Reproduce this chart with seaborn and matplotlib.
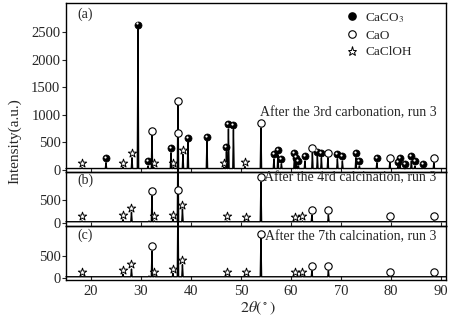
import numpy as np
import pandas as pd
import matplotlib
matplotlib.use("Agg")
import matplotlib.pyplot as plt
import seaborn as sns
from matplotlib.lines import Line2D
from matplotlib.transforms import offset_copy

# peak positions (2theta), heights (a.u.) and phase for each pattern
# C = CaCO3, O = CaO, S = CaClOH, '' = unlabelled
a_pos = [18.2, 23.0, 26.4, 28.2, 29.4, 31.4, 32.2, 32.6, 36.0, 36.5, 37.4, 38.4, 39.4,
         43.2, 46.6, 47.1, 47.5, 48.5, 50.8, 54.0, 56.6, 57.4, 58.1, 60.7, 61.1, 61.5,
         62.8, 64.3, 65.3, 66.1, 67.4, 69.3, 70.3, 73.0, 73.7, 77.2, 79.8, 81.4, 81.8,
         82.8, 84.1, 84.8, 86.5, 88.6]
a_h = [40, 130, 50, 220, 2550, 70, 630, 40, 310, 50, 1170, 280, 500,
       520, 50, 330, 740, 730, 60, 760, 200, 270, 110, 230, 140, 70,
       160, 310, 250, 220, 220, 200, 160, 220, 70, 130, 140, 60, 130,
       20, 160, 70, 30, 130]
a_phase = ['S', 'C', 'S', 'S', 'C', 'C', 'O', 'S', 'C', 'S', 'O', 'S', 'C',
           'C', 'S', 'C', 'C', 'C', 'S', 'O', 'C', 'C', 'C', 'C', 'C', 'C',
           'C', 'O', 'C', 'C', 'O', 'C', 'C', 'C', 'C', 'C', 'O', 'C', 'C',
           'C', 'C', 'C', 'C', 'O']

b_pos = [18.2, 26.4, 28.1, 31.6, 32.2, 32.7, 36.4, 37.4, 38.3, 47.2, 51.0, 54.0,
         60.8, 62.3, 64.2, 67.5, 79.8, 88.6]
b_h = [40, 70, 230, 40, 590, 40, 80, 1850, 300, 40, 30, 890, 30, 40, 170, 170, 40, 40]
b_phase = ['S', 'S', 'S', '', 'O', 'S', 'S', 'O', 'S', 'S', 'S', 'O',
           'S', 'S', 'O', 'O', 'O', 'O']

c_pos = [18.2, 26.4, 28.1, 31.6, 32.2, 32.7, 36.4, 37.4, 38.3, 47.2, 51.0, 54.0,
         60.8, 62.3, 64.2, 67.5, 79.8, 88.6]
c_h = [30, 80, 200, 40, 610, 40, 100, 1890, 300, 30, 30, 900, 30, 40, 160, 160, 30, 30]
c_phase = ['S', 'S', 'S', '', 'O', 'S', 'S', 'O', 'S', 'S', 'S', 'O',
           'S', 'S', 'O', 'O', 'O', 'O']

panel_tags = ['(a)', '(b)', '(c)']
run_labels = ['After the 3rd carbonation, run 3',
              'After the 4rd calcination, run 3',
              'After the 7th calcination, run 3']
a_yticks = [0, 500, 1000, 1500, 2000, 2500]
bc_yticks = [0, 500]
x_ticks = [20, 30, 40, 50, 60, 70, 80, 90]

sns.set_style('ticks')
plt.rcParams['font.family'] = ['Liberation Serif', 'DejaVu Serif']
plt.rcParams['mathtext.fontset'] = 'stix'

base = 25
half_w = 0.13


def profile(pos, h):
    # stick pattern: baseline - peak top - baseline for each reflection
    xs, ys = [15.0], [base]
    for p, v in zip(pos, h):
        xs += [p - half_w, p, p + half_w]
        ys += [base, v, base]
    xs.append(91.0)
    ys.append(base)
    return pd.DataFrame({'two_theta': xs, 'intensity': ys})


fig = plt.figure(figsize=(4.49, 3.30), dpi=100)
gs = fig.add_gridspec(3, 1, height_ratios=[169, 54, 54], hspace=0,
                      left=0.147, right=0.993, bottom=0.152, top=0.991)
axes = [fig.add_subplot(gs[i]) for i in range(3)]

data = [(a_pos, a_h, a_phase), (b_pos, b_h, b_phase), (c_pos, c_h, c_phase)]
ylims = [(-36, 3025), (-65, 1109), (-45, 1182)]
tag_y = [0.935, 0.85, 0.83]
run_y = [0.349, 0.889, 0.796]

for i, ax in enumerate(axes):
    pos, h, phase = data[i]
    df = profile(pos, h)
    sns.lineplot(data=df, x='two_theta', y='intensity', sort=False, estimator=None,
                 color='black', lw=1.0, ax=ax)
    ax.lines[-1].set_clip_on(False)

    pk = pd.DataFrame({'pos': pos, 'h': h, 'phase': phase})
    up = offset_copy(ax.transData, fig=fig, y=3.3, units='points')
    spot = offset_copy(ax.transData, fig=fig, x=-0.8, y=4.1, units='points')
    cc = pk[pk.phase == 'C']
    sns.scatterplot(data=cc, x='pos', y='h', marker='o', s=26, color='black',
                    edgecolor='black', linewidth=0.5, transform=up, clip_on=False,
                    zorder=5, ax=ax)
    sns.scatterplot(data=cc, x='pos', y='h', marker='o', s=2.5, color='white',
                    linewidth=0, transform=spot, clip_on=False, zorder=6, ax=ax)
    sns.scatterplot(data=pk[pk.phase == 'O'], x='pos', y='h', marker='o', s=28,
                    color='white', edgecolor='black', linewidth=0.8, transform=up,
                    clip_on=False, zorder=5, ax=ax)
    sns.scatterplot(data=pk[pk.phase == 'S'], x='pos', y='h', marker='*', s=40,
                    color='white', edgecolor='black', linewidth=0.7, transform=up,
                    clip_on=False, zorder=5, ax=ax)

    ax.set_xlim(15, 91)
    ax.set_ylim(*ylims[i])
    ax.set_xticks(x_ticks)
    ax.set_yticks(a_yticks if i == 0 else bc_yticks)
    ax.set_xlabel('')
    ax.set_ylabel('')
    ax.set_facecolor('none')
    for s in ax.spines.values():
        s.set_visible(True)
        s.set_linewidth(1.0)
        s.set_color('black')
    ax.tick_params(axis='y', direction='out', length=3, width=0.8, labelsize=10.5, pad=1)
    ax.tick_params(axis='x', direction='in', length=3, width=0.8, labelsize=10.5, pad=4)
    if i < 2:
        ax.tick_params(axis='x', labelbottom=False)
    ax.text(0.03, tag_y[i], panel_tags[i], transform=ax.transAxes, fontsize=10,
            ha='left', va='center')
    ax.text(0.976, run_y[i], run_labels[i], transform=ax.transAxes, fontsize=10,
            ha='right', va='center')

handles = [
    Line2D([], [], ls='', marker='o', ms=5.2, mfc='black', mec='black'),
    Line2D([], [], ls='', marker='o', ms=5.4, mfc='white', mec='black', mew=0.8),
    Line2D([], [], ls='', marker='*', ms=6.5, mfc='white', mec='black', mew=0.7),
]
axes[0].legend(handles, ['CaCO$_3$', 'CaO', 'CaClOH'], loc='upper left',
               bbox_to_anchor=(0.715, 1.0), frameon=False, fontsize=9.5,
               handlelength=1.0, handletextpad=0.5, labelspacing=0.35,
               borderaxespad=0.2)

fig.text(15 / 449, 0.573, 'Intensity(a.u.)', rotation=90, ha='center',
         va='center', fontsize=11)
fig.text(258 / 449, 1 - 308 / 330, r'$2\theta(^\circ)$', ha='center', va='center',
         fontsize=11.5)

fig.savefig('out.png', dpi=100)
